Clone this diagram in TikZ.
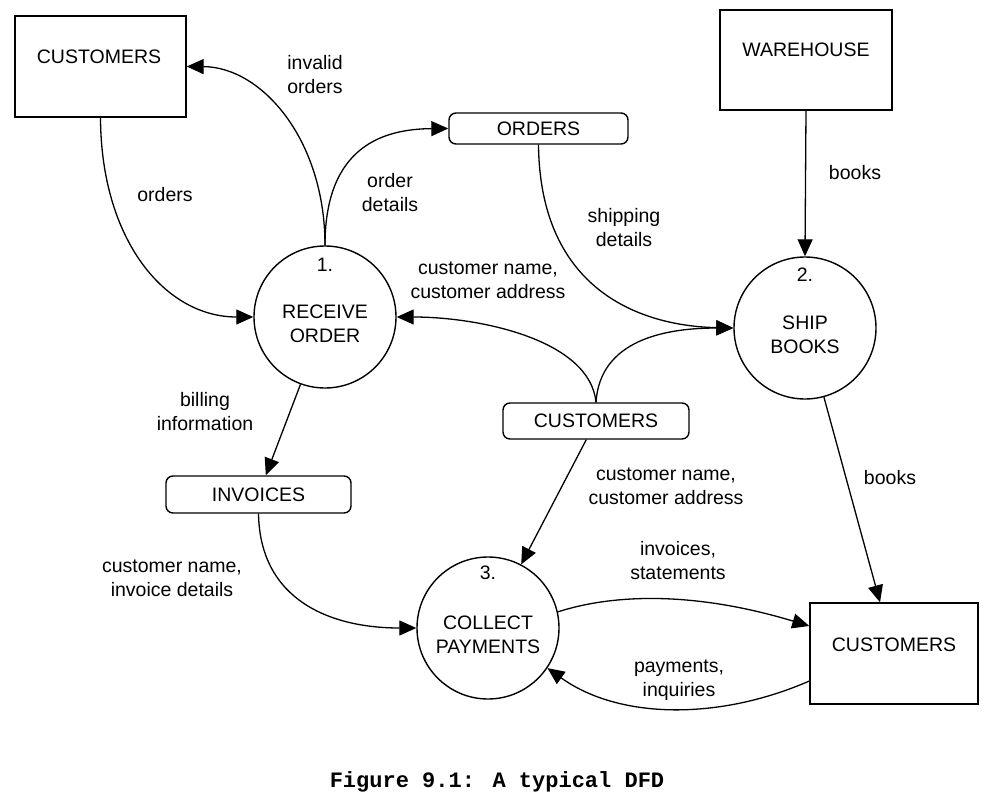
\documentclass[tikz,border=0pt]{standalone}
\usepackage{fontspec}
\setmainfont{Liberation Sans}
\newfontfamily\capfont{Liberation Mono}
\usetikzlibrary{arrows.meta,calc}
\begin{document}
\begin{tikzpicture}[x=1pt,y=-1pt,
  lbl/.style={font=\fontsize{19.5}{24}\selectfont, align=center, inner sep=0pt},
  extbox/.style={draw, line width=1.4pt, inner sep=0pt},
  store/.style={draw, line width=1.4pt, rounded corners=7pt, inner sep=0pt, font=\fontsize{19.5}{24}\selectfont},
  proc/.style={draw, circle, line width=1.4pt, minimum size=142pt, inner sep=0pt},
  flow/.style={line width=1.3pt, -{Triangle[length=17pt,width=15pt]}}]
\useasboundingbox (0,0) rectangle (1005,800);
\fill[white] (0,0) rectangle (1005,800);

% external entities
\node[extbox, minimum width=171pt, minimum height=101pt] (cust1) at (100.5,66.5) {};
\node[lbl] (cust1t) at (99,57) {CUSTOMERS};
\node[extbox, minimum width=172pt, minimum height=100pt] (wh) at (806,60) {};
\node[lbl] (wht) at (806,50) {WAREHOUSE};
\node[extbox, minimum width=168pt, minimum height=101pt] (ext3) at (894,653.5) {};
\node[lbl] (ext3t) at (894,645) {CUSTOMERS};

% data stores
\node[store, minimum width=179pt, minimum height=31pt] (orders) at (538.5,128.5) {ORDERS};
\node[store, minimum width=185pt, minimum height=37pt] (invoices) at (258.5,494.5) {INVOICES};
\node[store, minimum width=186pt, minimum height=36pt] (custmid) at (596,421) {CUSTOMERS};

% processes
\node[proc] (p1) at (325,317) {};
\node[lbl] (p1n) at (325,265) {1.};
\node[lbl] (p1t) at (325,323.5) {RECEIVE\\ORDER};
\node[proc] (p2) at (805,328) {};
\node[lbl] (p2n) at (805,275) {2.};
\node[lbl] (p2t) at (805,335) {SHIP\\BOOKS};
\node[proc] (p3) at (488,628) {};
\node[lbl] (p3n) at (488,573) {3.};
\node[lbl] (p3t) at (488,634.5) {COLLECT\\PAYMENTS};

% flows
\draw[flow] (cust1.south) .. controls (101,240) and (165,317) .. (p1.west);
\draw[flow] (p1.north) .. controls (325,140) and (262,67) .. (cust1.east);
\draw[flow] (p1.north) .. controls (325,145) and (385,129) .. (orders.west);
\draw[flow] (orders.south) .. controls (540,290) and (640,326) .. (p2.west);
\draw[flow] (wh.south) -- (p2.north);
\draw[flow] (custmid.north) .. controls (590,340) and (480,317) .. (p1.east);
\draw[flow] (custmid.north) .. controls (600,340) and (665,328) .. (p2.west);
\draw[flow] (p1.250) -- (invoices);
\draw[flow] (invoices.south) .. controls (260,600) and (330,628) .. (p3.west);
\draw[flow] (custmid) -- (p3);
\draw[flow] (p2) -- (ext3);
\draw[flow] (p3.13) .. controls (610,595) and (690,590) .. (ext3.162);
\draw[flow] (ext3.198) .. controls (720,720) and (620,720) .. (p3.-34);

% flow labels
\node[lbl] (l1) at (165,195) {orders};
\node[lbl] (l2) at (315,75) {invalid\\orders};
\node[lbl] (l3) at (390,193) {order\\details};
\node[lbl] (l4) at (624,228) {shipping\\details};
\node[lbl] (l5) at (855,173) {books};
\node[lbl] (l6) at (488,280) {customer name,\\customer address};
\node[lbl] (l7) at (205,412) {billing\\information};
\node[lbl] (l8) at (172,578) {customer name,\\invoice details};
\node[lbl] (l9) at (666,486) {customer name,\\customer address};
\node[lbl] (l10) at (890,478) {books};
\node[lbl] (l11) at (678,561) {invoices,\\statements};
\node[lbl] (l12) at (679,680) {payments,\\inquiries};

% caption
\node[inner sep=0pt, font=\capfont\bfseries\fontsize{22}{26}\selectfont] (cap) at (497,782) {Figure 9.1: A typical DFD};
\end{tikzpicture}
\end{document}
